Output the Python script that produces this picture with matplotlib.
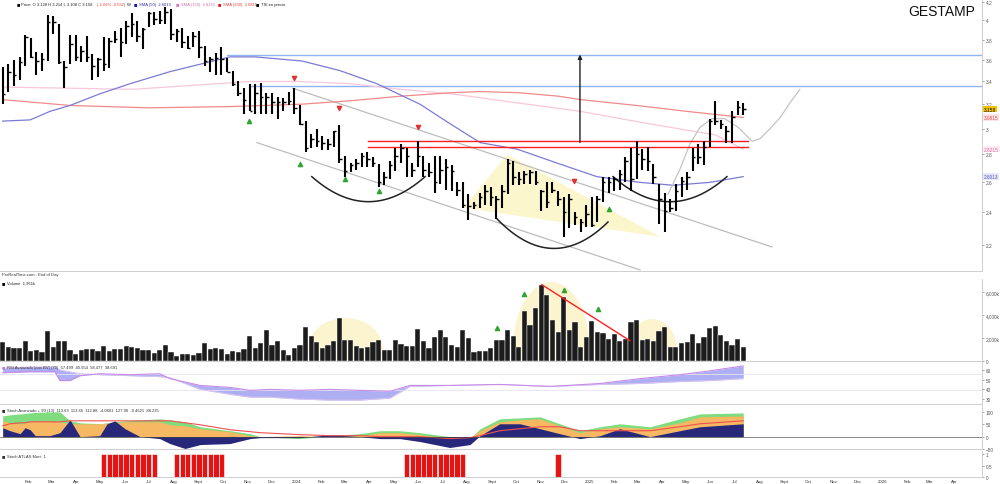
import numpy as np
import pandas as pd
import matplotlib
matplotlib.use("Agg")
import matplotlib.pyplot as plt
from matplotlib.patches import Ellipse, Polygon
from matplotlib.ticker import FixedLocator, NullLocator, FuncFormatter

plt.rcParams['font.family'] = ['Liberation Sans', 'DejaVu Sans']

#---Weekly GESTAMP bars, first bar = week of 2 Jan 2023
highs = [3.53, 3.56, 3.60, 3.63, 3.85, 3.82, 3.68, 3.67, 4.06, 4.05,
         3.96, 3.59, 3.85, 3.85, 3.74, 3.84, 3.66, 3.62, 3.83, 3.82,
         3.89, 3.92, 3.99, 4.08, 3.99, 3.92, 4.09, 4.09, 4.10, 4.14,
         4.12, 3.91, 3.92, 3.84, 3.88, 3.89, 3.74, 3.63, 3.67, 3.73,
         3.62, 3.50, 3.40, 3.34, 3.38, 3.38, 3.39, 3.30, 3.30, 3.26,
         3.25, 3.31, 3.34, 3.19, 3.06, 2.96, 3.00, 2.94, 2.92, 2.98,
         3.03, 2.79, 2.74, 2.77, 2.81, 2.82, 2.78, 2.73, 2.67, 2.75,
         2.85, 2.88, 2.85, 2.74, 2.90, 2.79, 2.74, 2.79, 2.79, 2.77,
         2.72, 2.60, 2.60, 2.52, 2.47, 2.53, 2.58, 2.57, 2.51, 2.58,
         2.77, 2.75, 2.67, 2.68, 2.69, 2.68, 2.55, 2.60, 2.60, 2.54,
         2.50, 2.52, 2.40, 2.36, 2.45, 2.50, 2.51, 2.64, 2.64, 2.64,
         2.69, 2.78, 2.85, 2.90, 2.84, 2.86, 2.73, 2.59, 2.53, 2.49,
         2.59, 2.64, 2.67, 2.85, 2.88, 2.90, 3.08, 3.23, 3.07, 3.02,
         3.14, 3.23, 3.214]
lows = [3.20, 3.31, 3.36, 3.41, 3.54, 3.62, 3.46, 3.50, 3.59, 3.86,
        3.56, 3.34, 3.56, 3.59, 3.58, 3.58, 3.41, 3.44, 3.50, 3.52,
        3.77, 3.63, 3.76, 3.83, 3.78, 3.71, 3.93, 3.95, 3.96, 3.96,
        3.80, 3.78, 3.72, 3.71, 3.73, 3.62, 3.54, 3.49, 3.46, 3.46,
        3.49, 3.36, 3.27, 3.12, 3.14, 3.12, 3.12, 3.12, 3.12, 3.08,
        3.14, 3.19, 3.12, 3.03, 2.82, 2.85, 2.86, 2.83, 2.83, 2.86,
        2.74, 2.64, 2.67, 2.69, 2.71, 2.71, 2.71, 2.57, 2.58, 2.62,
        2.68, 2.74, 2.64, 2.64, 2.71, 2.64, 2.64, 2.53, 2.59, 2.55,
        2.54, 2.51, 2.43, 2.35, 2.42, 2.43, 2.45, 2.44, 2.36, 2.43,
        2.52, 2.58, 2.58, 2.59, 2.59, 2.58, 2.41, 2.43, 2.53, 2.44,
        2.25, 2.30, 2.32, 2.28, 2.31, 2.31, 2.34, 2.47, 2.53, 2.54,
        2.55, 2.60, 2.54, 2.62, 2.69, 2.68, 2.59, 2.33, 2.28, 2.40,
        2.41, 2.50, 2.55, 2.68, 2.73, 2.72, 2.86, 3.03, 3.00, 2.89,
        2.89, 3.11, 3.108]
closes = [3.29, 3.49, 3.46, 3.58, 3.83, 3.63, 3.59, 3.61, 3.98, 3.98,
          3.58, 3.53, 3.76, 3.63, 3.69, 3.63, 3.54, 3.61, 3.56, 3.79,
          3.81, 3.78, 3.94, 3.96, 3.84, 3.91, 4.08, 4.01, 4.00, 4.09,
          3.86, 3.89, 3.78, 3.72, 3.84, 3.73, 3.59, 3.61, 3.62, 3.61,
          3.49, 3.38, 3.30, 3.24, 3.14, 3.30, 3.26, 3.26, 3.22, 3.22,
          3.22, 3.23, 3.17, 3.04, 2.85, 2.92, 2.90, 2.89, 2.88, 2.98,
          2.77, 2.68, 2.72, 2.74, 2.79, 2.77, 2.74, 2.60, 2.64, 2.72,
          2.79, 2.85, 2.79, 2.69, 2.79, 2.69, 2.67, 2.60, 2.69, 2.71,
          2.68, 2.55, 2.45, 2.44, 2.45, 2.50, 2.54, 2.50, 2.49, 2.54,
          2.74, 2.64, 2.62, 2.66, 2.67, 2.60, 2.54, 2.47, 2.55, 2.49,
          2.40, 2.49, 2.37, 2.34, 2.39, 2.32, 2.49, 2.60, 2.60, 2.62,
          2.66, 2.75, 2.62, 2.80, 2.77, 2.75, 2.64, 2.49, 2.41, 2.43,
          2.54, 2.61, 2.64, 2.78, 2.78, 2.86, 3.06, 3.06, 3.04, 2.98,
          3.09, 3.18, 3.158]
#---Weekly volume (thousands of shares)
volumes = [1680, 1240, 1130, 1130, 1740, 870, 960, 780, 2610, 1220,
           1740, 1740, 960, 610, 960, 1040, 1040, 870, 1300, 870,
           1040, 1040, 1300, 1220, 1130, 960, 960, 700, 960, 1390,
           780, 440, 610, 610, 520, 700, 1570, 1040, 1130, 1040,
           610, 870, 780, 1040, 2180, 1130, 1570, 2700, 1390, 1740,
           960, 520, 1130, 1420, 2980, 2180, 1680, 1130, 1390, 1770,
           3710, 1850, 1850, 1330, 1130, 1240, 1630, 1830, 980, 980,
           1830, 1480, 1280, 1280, 2780, 1710, 1100, 2060, 2700, 2060,
           1390, 1240, 2700, 1970, 760, 900, 870, 1130, 1830, 1830,
           2700, 2150, 1240, 4380, 3130, 4610, 6640, 5770, 3570, 2500,
           5540, 2700, 3420, 1240, 2060, 3510, 2550, 2440, 1910, 2350,
           1710, 1910, 3420, 3590, 1830, 1910, 1770, 2640, 2930, 1190,
           1190, 1570, 1680, 2350, 1540, 2060, 2840, 3020, 2260, 1770,
           1390, 1910, 1190]

#---Moving averages (week, value)
sma50_wk = [0, 4.9, 8.4, 12.0, 17.3, 22.7, 29.8, 35.2, 40.5, 45.0, 53.4, 60.1,
            66.7, 74.4, 79.7, 85.1, 91.7, 99.3, 105.9, 113.6, 119.5, 126.1, 132]
sma50 = [3.06, 3.07, 3.14, 3.19, 3.29, 3.38, 3.49, 3.56, 3.63, 3.63, 3.59, 3.50,
         3.38, 3.20, 3.04, 2.89, 2.84, 2.73, 2.64, 2.60, 2.58, 2.60, 2.64]
sma150_wk = [0, 11.5, 23.2, 38.2, 44.1, 53, 62, 71, 80, 89, 103, 115, 127, 132]
sma150 = [3.35, 3.34, 3.33, 3.38, 3.40, 3.40, 3.38, 3.33, 3.29, 3.23, 3.14, 3.04, 2.95, 2.84]
sma200_wk = [0, 12, 26, 40, 53, 62, 71, 80, 85, 92, 99, 103, 113, 122, 132]
sma200 = [3.24, 3.19, 3.17, 3.18, 3.20, 3.23, 3.27, 3.30, 3.31, 3.30, 3.27, 3.24, 3.19, 3.14, 3.09]

#---Drawn annotations (week, price)
resist_blue = [(40.0, 3.65), (44.1, 3.36)]
resist_red = [2.90, 2.86]
red_from, red_to = 65.1, 132.9
upper_channel = [(51.7, 3.34), (137.1, 2.19)]
lower_channel = [(45.3, 2.89), (113.6, 2.06)]
target_arrow = (102.9, 2.87, 3.68)
arcs = [[(55.1, 2.64), (65.5, 2.47), (75.3, 2.64)],
        [(88.1, 2.36), (100.6, 2.19), (107.9, 2.34)],
        [(108.8, 2.64), (119.5, 2.47), (129.1, 2.64)]]
wedge = [(82.1, 2.43), (89.9, 2.80), (117.2, 2.25)]
proj_wk = [118.6, 120.7, 122.5, 124.3, 126.4, 128.7, 131.1, 132.9, 133.6, 135.0,
           136.8, 138.6, 140.3, 142.1]
proj = [2.52, 2.69, 2.88, 3.01, 3.08, 3.08, 3.01, 2.93, 2.90, 2.92,
        3.00, 3.09, 3.21, 3.33]
buy_sig = [(43.9, 3.06), (53.0, 2.73), (61.0, 2.62), (67.1, 2.54), (108.1, 2.42)]
sell_sig = [(51.9, 3.43), (59.9, 3.17), (74.0, 3.01), (101.8, 2.61)]

#---Volume annotations
vol_domes = [(61.1, 1040, 13.4, 5390), (97.8, 1040, 13.7, 11660), (115.8, 1040, 8.7, 5220)]
vol_line = [(96.1, 6640), (111.8, 1770)]
vol_buy = [(88.1, 2850), (92.9, 5830), (100.1, 6200), (106.1, 4520)]

#---RSI avanzado (week, value) and its slow line
rsi_wk = [0, 4.9, 9.3, 10.2, 12.0, 13.8, 17.3, 22.7, 28.0, 29.8, 32.9, 35.2, 40.5, 44.1,
          47.6, 53.0, 58.3, 63.7, 69.0, 72.6, 79.7, 88.6, 97.6, 106.5, 113.6, 120.7,
          126.1, 132]
rsi = [57, 58, 58, 49, 49, 54, 56, 55, 56, 51, 47, 44, 42, 39,
       40, 39, 40, 39, 38, 44, 44, 45, 43, 46, 51, 55,
       59, 64]
rsi_sig = [62, 63, 63, 60, 58, 56, 55, 54, 53, 52, 45, 40, 35, 32,
           32, 30, 29, 29, 31, 43, 44, 45, 43, 45, 46, 48,
           49, 51]

#---Stoch avanzado (week, value)
st_wk = [0, 1.3, 3.1, 4.0, 4.9, 5.8, 8.4, 10.2, 12.0, 13.8, 17.3, 18.6, 20.0, 21.8,
         24.5, 28.0, 29.8, 32.5, 35.2, 40.5, 44.1, 45.9, 53.0, 58.3, 63.7, 67.3,
         70.8, 74.4, 79.7, 83.3, 85.1, 88.6, 92.2, 95.8, 99.3, 102.9, 106.5, 110.0,
         115.4, 120.7, 124.3, 132]
st_green = [84, 88, 92, 94, 96, 98, 100, 100, 64, 56, 52, 56, 60, 64,
            68, 72, 68, 60, 40, 24, 12, 0, -8, 4, 12, 24,
            24, 16, 0, -8, 32, 72, 76, 80, 52, 24, 40, 52,
            40, 72, 92, 96]
st_orange = [64, 56, 52, 56, 60, 62, 64, 60, 52, 52, 52, 54, 56, 60,
             60, 60, 48, 44, 32, 20, 4, 0, 4, 0, 4, 16,
             16, 8, -8, -8, 24, 60, 68, 72, 44, 16, 32, 40,
             32, 56, 80, 84]
st_navy = [36, 24, 12, 36, 28, 4, 4, 16, 68, 0, 4, 52, 64, 32,
           0, -8, -28, -48, -32, -28, -8, -4, -4, 8, 0, -8,
           -8, -20, -44, -32, 4, 52, 52, 32, 12, -8, 4, 32,
           0, 24, 40, 52]
st_red = [44, 52, 56, 56, 60, 60, 60, 60, 64, 64, 64, 64, 64, 64,
          64, 64, 64, 56, 48, 28, 20, 16, 8, 4, 4, 0,
          0, 0, -8, -4, 4, 24, 32, 40, 40, 24, 24, 24,
          24, 40, 52, 64]

#---Stoch ATLAS weeks flagged
atlas_wk = list(range(18, 28)) + list(range(31, 40)) + list(range(72, 83)) + [99]

#======Layout helpers
W, H, AXW = 1000, 485, 982
PXW = 5.61  # px per week
t0 = pd.Timestamp('2023-01-02')
wk = np.arange(len(closes))
XMIN, XMAX = -2.7 / PXW, (AXW - 2.7) / PXW
HDR = 3.0  # header font size
fig = plt.figure(figsize=(W / 100, H / 100), dpi=100)


def panel(top, bottom):
    ax = fig.add_axes([0, 1 - bottom / H, AXW / W, (bottom - top) / H])
    ax.set_xlim(XMIN, XMAX)
    ax.set_xticks([])
    for s in ['left', 'top']:
        ax.spines[s].set_visible(False)
    for s in ['right', 'bottom']:
        ax.spines[s].set_color('#c8c8c8')
        ax.spines[s].set_linewidth(0.6)
    ax.yaxis.tick_right()
    ax.tick_params(axis='y', labelsize=3.4, length=1.5, width=0.4, colors='#555555', pad=1)
    return ax


def ftxt(x, y, s, **kw):
    fig.text(x / W, 1 - y / H, s, va='center', **kw)


def label_box(ax, y, s, fc, tc):
    ax.text(1.002, y, s, transform=ax.get_yaxis_transform(), fontsize=3.4, color=tc,
            va='center', ha='left', bbox=dict(boxstyle='square,pad=0.15', fc=fc, ec='none'))

#======Price panel
ax = panel(0, 272)
ax.set_yscale('log')
ax.set_ylim(2.054, 4.234)
ax.yaxis.set_major_locator(FixedLocator([2.2, 2.4, 2.6, 2.8, 3.0, 3.2, 3.4, 3.6, 3.8, 4.0, 4.2]))
ax.yaxis.set_minor_locator(NullLocator())
ax.yaxis.set_major_formatter(FuncFormatter(lambda v, p: '%g' % v))

ax.add_patch(Polygon(wedge, closed=True, fc='#fcf6cc', ec='none', zorder=0))
for (w0, p0), (w1, p1) in [upper_channel, lower_channel]:
    ax.plot([w0, w1], [p0, p1], color='#bdbdbd', lw=0.9, zorder=1)
for (w0, p0) in resist_blue:
    ax.plot([w0, XMAX], [p0, p0], color='#8fb4f2', lw=1.0, zorder=1)
for p0 in resist_red:
    ax.plot([red_from, red_to], [p0, p0], color='#ff1f1f', lw=1.0, zorder=2)
ax.plot(sma150_wk, sma150, color='#f7c8dc', lw=0.9, zorder=1)
ax.plot(sma200_wk, sma200, color='#f08a8a', lw=0.9, zorder=1)
ax.plot(sma50_wk, sma50, color='#7b7bd6', lw=0.9, zorder=1)
ax.plot(proj_wk, proj, color='#c4c4c4', lw=0.9, zorder=1)
for pts in arcs:
    xs = np.array([p[0] for p in pts])
    ys = np.log([p[1] for p in pts])
    cf = np.polyfit(xs, ys, 2)
    xx = np.linspace(xs[0], xs[-1], 60)
    ax.plot(xx, np.exp(np.polyval(cf, xx)), color='#222222', lw=1.1, zorder=3)
aw, ap0, ap1 = target_arrow
ax.annotate('', xy=(aw, ap1), xytext=(aw, ap0),
            arrowprops=dict(arrowstyle='-|>', color='#222222', lw=1.0, mutation_scale=6), zorder=3)

ax.vlines(wk, lows, highs, color='black', lw=1.5, zorder=4)
ax.hlines(closes, wk, wk + 0.45, color='black', lw=1.0, zorder=4)

ax.scatter([s[0] for s in buy_sig], [s[1] for s in buy_sig], marker='^', s=9, color='#2ea62e', zorder=5)
ax.scatter([s[0] for s in sell_sig], [s[1] for s in sell_sig], marker='v', s=9, color='#e03030', zorder=5)

label_box(ax, closes[-1], '%.3f' % closes[-1], '#f2c400', 'black')
label_box(ax, sma200[-1], '3.0815', '#fde4e4', '#e05050')
label_box(ax, sma150[-1], '2.8215', '#fdeaf2', '#e070a0')
label_box(ax, sma50[-1], '2.6013', '#e6e6fa', '#5050c0')
ax.text(0.993, 0.955, 'GESTAMP', transform=ax.transAxes, ha='right', va='center',
        fontsize=10, color='#111111')

#---Header legend
ftxt(17, 5, '\u25a0', fontsize=HDR + 1, color='black')
ftxt(21, 5, 'Price: O 3.128 H 3.214 L 3.108 C 3.158', fontsize=HDR, color='#222222')
ftxt(97, 5, '(-1.06% -0.032)', fontsize=HDR, color='#e04040')
ftxt(127, 5, 'W', fontsize=HDR, color='#222222')
ftxt(134, 5, '\u25a0', fontsize=HDR + 1, color='#1010c0')
ftxt(139, 5, 'SMA (50)  2.6013', fontsize=HDR, color='#3030a0')
ftxt(176, 5, '\u25a0', fontsize=HDR + 1, color='#e070c0')
ftxt(181, 5, 'SMA (150)  2.8215', fontsize=HDR, color='#d070a0')
ftxt(218, 5, '\u25a0', fontsize=HDR + 1, color='#ee1010')
ftxt(223, 5, 'SMA (200)  3.0815', fontsize=HDR, color='#e04040')
ftxt(256, 5, '\u25a0', fontsize=HDR + 1, color='black')
ftxt(261, 5, 'TSI en precio', fontsize=HDR, color='#222222')
ftxt(2, 275, 'ProRealTime.com - End of Day', fontsize=HDR, color='#333333')

#======Volume panel
axv = panel(280, 362)
axv.set_ylim(0, (362 - 280) * 87)
for (cw, cv, ww, hh) in vol_domes:
    axv.add_patch(Ellipse((cw, cv), ww, hh, fc='#fcf4cf', ec='none', zorder=0))
axv.bar(wk, volumes, width=0.92, color='#1c1c1c', edgecolor='white', linewidth=0.3, zorder=2)
(v0w, v0), (v1w, v1) = vol_line
axv.plot([v0w, v1w], [v0, v1], color='#ff2020', lw=1.0, zorder=3)
axv.scatter([s[0] for s in vol_buy], [s[1] for s in vol_buy], marker='^', s=9, color='#2ea62e', zorder=4)
axv.yaxis.set_major_locator(FixedLocator([0, 2000, 4000, 6000]))
axv.yaxis.set_major_formatter(FuncFormatter(lambda v, p: '0' if v == 0 else '{:,.0f}k'.format(v)))
ftxt(2, 284, '\u25a0', fontsize=HDR + 1, color='black')
ftxt(7, 284, 'Volume  1,951k', fontsize=HDR, color='#222222')

#======RSI panel
axr = panel(363, 405)
axr.set_ylim(25, 68)
axr.axhline(56, color='#e6e2f2', lw=0.6)
axr.axhline(39, color='#e6e2f2', lw=0.6)
axr.fill_between(rsi_wk, rsi, rsi_sig, color='#aeaef2', lw=0)
axr.plot(rsi_wk, rsi_sig, color='#d9c4f0', lw=0.7)
axr.plot(rsi_wk, rsi, color='#c78ae8', lw=0.8)
axr.yaxis.set_major_locator(FixedLocator([30, 40, 50, 60]))
ftxt(2, 368, '\u25a0', fontsize=HDR + 1, color='#c080e0')
ftxt(7, 368, 'RSI Avanzado (con BV) (70)  57.499  40.554  58.477  38.691', fontsize=HDR, color='#333333')

#======Stoch panel
axs = panel(406, 450)
axs.set_ylim(-50, 128)
axs.fill_between(st_wk, 0, st_green, color='#7fdc7f', lw=0)
axs.fill_between(st_wk, 0, st_orange, color='#f6b863', lw=0)
axs.fill_between(st_wk, 0, st_navy, color='#28287a', lw=0)
axs.plot(st_wk, st_red, color='#f05050', lw=0.8)
axs.axhline(0, color='#333333', lw=0.4)
axs.yaxis.set_major_locator(FixedLocator([-50, 0, 50, 100]))
ftxt(2, 411, '\u25a0', fontsize=HDR + 1, color='#333333')
ftxt(7, 411, 'Stoch Avanzado + 99 (13)  113.63  113.66  112.88  -4.0601  127.90  -0.4621  88.235',
     fontsize=HDR, color='#333333')

#======ATLAS panel
axa = panel(452, 478)
axa.set_ylim(0, 1.15)
axa.bar(atlas_wk, [1] * len(atlas_wk), width=0.95, color='#e41414', edgecolor='#ffffff', linewidth=0.4)
axa.yaxis.set_major_locator(FixedLocator([0, 0.5, 1]))
axa.yaxis.set_major_formatter(FuncFormatter(lambda v, p: '%g' % v))
ftxt(2, 457, '\u25a0', fontsize=HDR + 1, color='#333333')
ftxt(7, 457, 'Stoch ATLAS Moni  1', fontsize=HDR, color='#333333')

#---Month labels along the bottom
months = pd.date_range('2023-02-01', '2026-04-01', freq='MS')
for d in months:
    pos = (d - t0).days / 7
    lab = str(d.year) if d.month == 1 else ('Sept' if d.month == 9 else d.strftime('%b'))
    x = 2.7 + pos * PXW + 2
    ftxt(x, 482, lab, fontsize=HDR + 0.2, color='#333333', ha='center')

fig.savefig('out.png', dpi=100, facecolor='white')
